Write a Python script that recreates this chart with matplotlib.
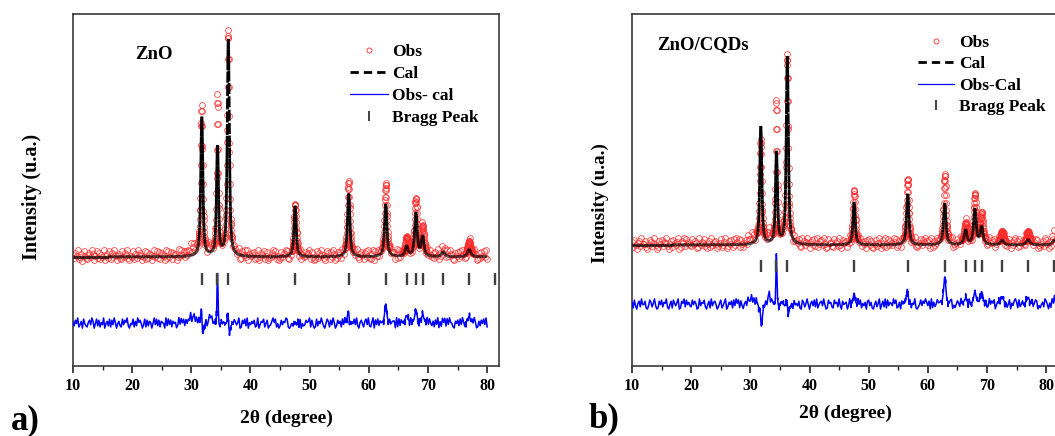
import numpy as np
import matplotlib
matplotlib.use("Agg")
import matplotlib.pyplot as plt
from matplotlib.collections import LineCollection
from matplotlib.lines import Line2D
from matplotlib.ticker import MultipleLocator

plt.rcParams['font.family'] = ['Liberation Serif', 'DejaVu Serif']
plt.rcParams['font.weight'] = 'bold'

# ---------------- data: panel a (ZnO) ----------------
bragg_a = [31.77, 34.42, 36.25, 47.54, 56.60, 62.86, 66.38, 67.96, 69.10, 72.56, 76.95, 81.40]
cal_height_a = [39.7, 31.0, 61.6, 14.5, 18.0, 15.0, 3.0, 12.4, 5.7, 1.5, 2.2, 1.5]
cal_fwhm_a = [0.42, 0.40, 0.42, 0.45, 0.48, 0.50, 0.55, 0.52, 0.55, 0.60, 0.65, 0.65]
obs_pos_a = [31.75, 34.42, 36.24, 47.54, 56.58, 62.86, 66.38, 67.96, 69.10, 72.56, 76.95, 81.40, 30.3, 33.1]
obs_height_a = [42.0, 45.0, 63.6, 14.7, 21.0, 20.4, 5.0, 16.0, 8.0, 2.5, 4.0, 2.0, 2.0, 2.0]
obs_fwhm_a = [0.38, 0.32, 0.40, 0.42, 0.45, 0.47, 0.55, 0.50, 0.52, 0.60, 0.60, 0.65, 1.6, 0.7]
background_a = 31.0
obs_background_a = 31.4
diff_offset_a = 11.8
bragg_level_a = 24.8
range_a = (10, 80)
noise_a = ("52749136084215739604827153904628173950462183759204"
           "38162957403817265049382716540928371645029384716253"
           "90471628354917026483590172846359012748635901748290536"
           "47129036581470236958140273659810243756918042375691"
           "73018264952048617395027461839502176483920574168392"
           "15907382644092817356609182743055918264730071846293"
           "84261739050627183954106472839510628374950162748391")

# ---------------- data: panel b (ZnO/CQDs) ----------------
bragg_b = [31.77, 34.42, 36.25, 47.54, 56.60, 62.86, 66.38, 67.96, 69.10, 72.56, 76.95, 81.40]
cal_height_b = [33.6, 26.1, 53.4, 12.2, 14.5, 11.9, 4.2, 10.2, 5.1, 1.4, 1.6, 1.5]
cal_fwhm_b = [0.42, 0.40, 0.42, 0.45, 0.48, 0.50, 0.55, 0.52, 0.55, 0.60, 0.65, 0.65]
obs_pos_b = [31.75, 34.42, 36.24, 47.54, 56.58, 62.86, 66.38, 67.96, 69.10, 72.56, 76.95, 81.40, 30.5, 33.1]
obs_height_b = [29.0, 39.2, 53.6, 15.3, 18.4, 19.6, 5.6, 13.6, 8.5, 3.4, 3.4, 2.5, 1.5, 2.5]
obs_fwhm_b = [0.38, 0.32, 0.40, 0.42, 0.45, 0.47, 0.55, 0.50, 0.52, 0.60, 0.60, 0.65, 1.5, 0.7]
background_b = 34.4
obs_background_b = 34.8
diff_offset_b = 17.2
bragg_level_b = 28.5
range_b = (10, 82)
noise_b = ("61830572944710386259301748265920471853690175928463"
           "28475019365820471936740258136902647183958173046295"
           "49261850731836049275629103758490273618453710862594"
           "05738291467394018562185629307456039172482948153607"
           "83610472590472918365395812607467302815491024837596"
           "37091624855618392047803147529625960831746485920317"
           "12947580369263705148053796182473196504825870314629"
           "74051839260")

x_ticks_major = 10
x_ticks_minor = 5
legend_labels_a = ["Obs", "Cal", "Obs- cal", "Bragg Peak"]
legend_labels_b = ["Obs", "Cal", "Obs-Cal", "Bragg Peak"]


def profile(x, positions, heights, fwhms, bg, eta=0.7):
    y = np.full_like(x, bg, dtype=float)
    for p, h, w in zip(positions, heights, fwhms):
        d = (x - p) / w
        y += h * (eta / (1 + 4 * d ** 2) + (1 - eta) * np.exp(-4 * np.log(2) * d ** 2))
    return y


W, H = 1055, 436
fig = plt.figure(figsize=(W / 100, H / 100), dpi=100)


def px_axes(left, top, width, height):
    return fig.add_axes([left / W, 1 - (top + height) / H, width / W, height / H])


def draw_panel(ax, bragg, cal_h, cal_w, obs_pos, obs_h, obs_w, bg, obs_bg, doff, blevel,
               xr, noise, xlabel_xy, ylabel_xy, ysize):
    nv = (np.array([int(c) for c in noise]) - 4.5) * 0.32
    x_reg = np.linspace(xr[0], xr[1], len(nv))
    x_pk = np.concatenate([np.arange(p - 0.6, p + 0.6, 0.04)
                           for p, h in zip(obs_pos, obs_h) if h > 3 and p < xr[1]])
    x_obs = np.concatenate([x_reg, x_pk])
    n_obs = np.concatenate([nv, np.zeros_like(x_pk)])
    order = np.argsort(x_obs)
    x_obs, n_obs = x_obs[order], n_obs[order]
    obs = profile(x_obs, obs_pos, obs_h, obs_w, obs_bg) + n_obs
    cal_at_obs = profile(x_obs, bragg, cal_h, cal_w, bg)
    diff = obs - cal_at_obs + doff

    ax.plot(x_obs, obs, ls='none', marker='o', ms=4.2, mfc='none',
            mec='#ff2a2a', mew=0.6, alpha=0.85, zorder=2)
    x_cal = np.linspace(xr[0], xr[1], 3501)
    y_cal = profile(x_cal, bragg, cal_h, cal_w, bg)
    pts = np.column_stack([x_cal, y_cal])
    segs = np.stack([pts[:-1], pts[1:]], axis=1)
    ax.add_collection(LineCollection(segs, colors='k', linewidths=2.0,
                                     linestyles=(0, (4, 2)), zorder=3))
    ax.plot(x_obs, diff, color='#0000ff', lw=1.1, zorder=3)
    ax.plot(bragg, [blevel] * len(bragg), ls='none', marker='|', ms=8,
            mew=1.7, color='#404040', zorder=4)

    ax.set_xlim(10, 82)
    ax.set_ylim(0, 100)
    ax.xaxis.set_major_locator(MultipleLocator(x_ticks_major))
    ax.xaxis.set_minor_locator(MultipleLocator(x_ticks_minor))
    ax.tick_params(axis='x', which='major', direction='out', length=5,
                   width=1.2, labelsize=11.5, pad=4, colors='#222222')
    ax.tick_params(axis='x', which='minor', direction='out', length=3, width=1.0,
                   colors='#222222')
    ax.tick_params(axis='y', which='both', left=False, labelleft=False)
    for lab in ax.get_xticklabels():
        lab.set_fontweight('bold')
        lab.set_color('black')
    for s in ax.spines.values():
        s.set_linewidth(1.2)
        s.set_color('#3a3a3a')

    ax.set_xlabel('2θ (degree)', fontsize=14, fontweight='bold', va='center')
    ax.xaxis.set_label_coords(*xlabel_xy)
    ax.set_ylabel('Intensity (u.a.)', fontsize=ysize, fontweight='bold', va='center')
    ax.yaxis.set_label_coords(*ylabel_xy)

    handles = [
        Line2D([], [], ls='none', marker='o', ms=3.6, mfc='none', mec='#ff2a2a', mew=0.6),
        Line2D([], [], color='k', lw=2.0, ls=(0, (3, 1.8))),
        Line2D([], [], color='#0000ff', lw=0.9),
        Line2D([], [], ls='none', marker='|', ms=7, mew=1.4, color='#404040'),
    ]
    return handles


# panel a
ax_a = px_axes(73, 14, 426, 352)
h_a = draw_panel(ax_a, bragg_a, cal_height_a, cal_fwhm_a, obs_pos_a, obs_height_a,
                 obs_fwhm_a, background_a, obs_background_a, diff_offset_a, bragg_level_a,
                 range_a, noise_a, (0.5, -0.1477), (-0.0962, 0.480), 14.5)
ax_a.legend(h_a, legend_labels_a, loc='upper left', bbox_to_anchor=(0.650, 0.915),
            frameon=False, handlelength=2.2, handletextpad=0.25,
            labelspacing=0.34, borderpad=0, borderaxespad=0, numpoints=1,
            prop={'weight': 'bold', 'size': 12.5})
ax_a.text((135 - 73) / 426, (366 - 55) / 352, 'ZnO', transform=ax_a.transAxes,
          ha='left', va='center', fontsize=13.5, fontweight='bold')

# panel b
ax_b = px_axes(632, 14, 426, 352)
h_b = draw_panel(ax_b, bragg_b, cal_height_b, cal_fwhm_b, obs_pos_b, obs_height_b,
                 obs_fwhm_b, background_b, obs_background_b, diff_offset_b, bragg_level_b,
                 range_b, noise_b, (0.5, -0.1335), (-0.0751, 0.463), 13.8)
ax_b.legend(h_b, legend_labels_b, loc='upper left', bbox_to_anchor=(0.671, 0.941),
            frameon=False, handlelength=2.1, handletextpad=0.25,
            labelspacing=0.30, borderpad=0, borderaxespad=0, numpoints=1,
            prop={'weight': 'bold', 'size': 12.5})
ax_b.text((657 - 632) / 426, (366 - 45) / 352, 'ZnO/CQDs', transform=ax_b.transAxes,
          ha='left', va='center', fontsize=13.5, fontweight='bold')

fig.text(25 / W, 1 - 421 / H, 'a)', ha='center', va='center', fontsize=25, fontweight='bold')
fig.text(604 / W, 1 - 419 / H, 'b)', ha='center', va='center', fontsize=25, fontweight='bold')

fig.savefig('out.png', dpi=100)
